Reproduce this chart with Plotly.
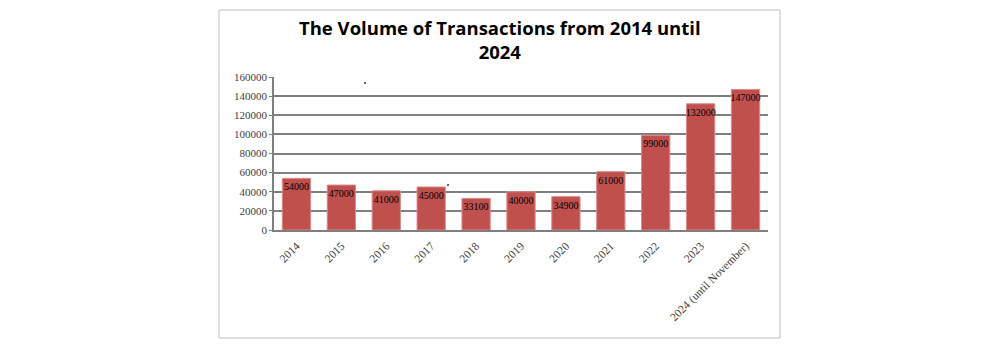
import plotly.graph_objects as go

categories = ["2014", "2015", "2016", "2017", "2018", "2019", "2020", "2021", "2022", "2023", "2024 (until November)"]
volumes = [54000, 47000, 41000, 45000, 33100, 40000, 34900, 61000, 99000, 132000, 147000]
y_ticks = [0, 20000, 40000, 60000, 80000, 100000, 120000, 140000, 160000]
title_lines = ["The Volume of Transactions from 2014 until", "2024"]

W, H = 1000, 347
L, R, T, B = 274, 768, 77, 230

fig = go.Figure()
fig.add_trace(go.Bar(
    x=categories, y=volumes,
    marker=dict(color="#C0504D", line=dict(color="#D98C8A", width=1)),
    text=[str(v) for v in volumes],
    textposition="inside", insidetextanchor="end", textangle=0,
    constraintext="none",
    textfont=dict(family="Liberation Serif", size=10, color="#000000"),
    cliponaxis=False,
    width=0.63,
))

def px2paper(px, py):
    return (px - L) / (R - L), (B - py) / (B - T)

shapes = []
x0, y0 = px2paper(219, 338)
x1, y1 = px2paper(780, 10)
shapes.append(dict(type="rect", xref="paper", yref="paper", x0=x0, y0=y0, x1=x1, y1=y1,
                   line=dict(color="#BFBFBF", width=1), layer="below"))
for (dx, dy) in [(365, 83), (448, 185)]:
    a0, b0 = px2paper(dx - 1, dy + 1)
    a1, b1 = px2paper(dx + 1, dy - 1)
    shapes.append(dict(type="circle", xref="paper", yref="paper", x0=a0, y0=b0, x1=a1, y1=b1,
                       fillcolor="#333333", line=dict(width=0)))

ax, ay = px2paper(500, 39)
annotations = [dict(text="<b>" + "<br>".join(title_lines) + "</b>", xref="paper", yref="paper",
                    x=ax, y=ay, xanchor="center", yanchor="middle", showarrow=False, align="center",
                    font=dict(family="Open Sans", size=18.5, color="#000000"))]

fig.update_layout(
    width=W, height=H,
    margin=dict(l=L, r=W - R, t=T, b=H - B, pad=0),
    paper_bgcolor="white", plot_bgcolor="white",
    showlegend=False,
    shapes=shapes,
    annotations=annotations,
    bargap=0.37,
)

fig.update_yaxes(range=[0, 160000], tickvals=y_ticks, ticktext=[str(v) for v in y_ticks],
                 showgrid=True, gridcolor="#7F7F7F", gridwidth=1.5,
                 showline=True, linecolor="#7F7F7F", linewidth=1.5,
                 ticks="outside", ticklen=3, tickcolor="#7F7F7F",
                 tickfont=dict(family="Liberation Serif", size=11, color="#404040"),
                 zeroline=False, fixedrange=True)
fig.update_xaxes(tickangle=-45, showline=True, linecolor="#7F7F7F", linewidth=1.5,
                 tickfont=dict(family="Liberation Serif", size=11.5, color="#404040"),
                 ticklabelstandoff=3,
                 ticks="", fixedrange=True)

fig.write_html("out.html")
